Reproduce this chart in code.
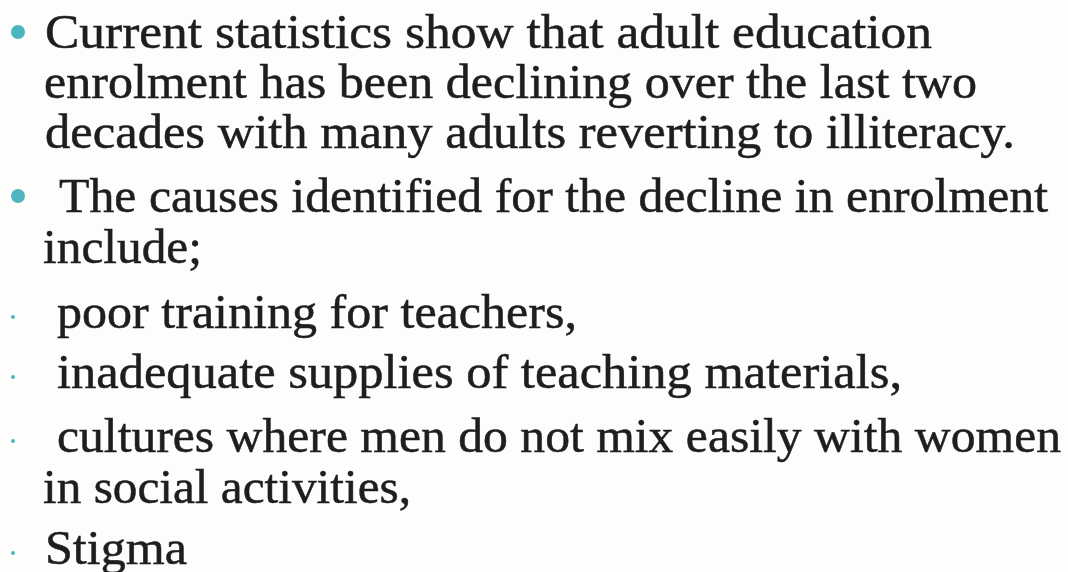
<!DOCTYPE html>
<html>
<head>
<meta charset="utf-8">
<script src="https://cdn.jsdelivr.net/npm/chart.js@4.4.1/dist/chart.umd.min.js"></script>
<style>
  html, body { margin: 0; padding: 0; }
  body { width: 1068px; height: 572px; background: #fdfdfc; position: relative; overflow: hidden; }
  .ln { position: absolute; white-space: nowrap; font-family: "Liberation Serif", "Times New Roman", serif; font-size: 48px; line-height: 1; color: #1e1e1e; -webkit-text-stroke: 0.5px #1e1e1e; transform-origin: 0 0; }
  .dot { position: absolute; border-radius: 50%; background: #4db5be; }
</style>
</head>
<body>
<script>
// Slide text (one entry per visual line)
const lineTexts = [
  "Current statistics show that adult education",
  "enrolment has been declining over the last two",
  "decades with many adults reverting to illiteracy.",
  "The causes identified for the decline in enrolment",
  "include;",
  "poor training for teachers,",
  "inadequate supplies of teaching materials,",
  "cultures where men do not mix easily with women",
  "in social activities,",
  "Stigma"
];
// bullet kind per line: "main" = large teal bullet, "sub" = small teal dot, "" = continuation
const bulletKinds = ["main", "", "", "main", "", "sub", "sub", "sub", "", "sub"];

// layout (pixels)
const baselineY = [48, 98, 148, 212, 263, 328, 388, 452, 503, 564];
const leftX     = [45, 44, 45, 59, 43, 57, 57, 57, 43, 45];
const rightX    = [932, 977, 1015, 1048, 202, 577, 902, 1061, 411, 187];

lineTexts.forEach((txt, i) => {
  const d = document.createElement('div');
  d.className = 'ln';
  const t = document.createElement('span');
  t.textContent = txt;
  const m = document.createElement('span');
  m.style.cssText = 'display:inline-block;width:0;height:0;vertical-align:baseline';
  d.appendChild(t); d.appendChild(m);
  d.style.left = leftX[i] + 'px';
  d.style.top = '0px';
  document.body.appendChild(d);
  const base = m.getBoundingClientRect().top - d.getBoundingClientRect().top;
  d.style.top = (baselineY[i] - base) + 'px';
  const w = t.getBoundingClientRect().width;
  d.style.transform = 'scaleX(' + ((rightX[i] - leftX[i]) / w) + ')';

  if (bulletKinds[i]) {
    const b = document.createElement('div');
    b.className = 'dot';
    const big = bulletKinds[i] === 'main';
    const size = big ? 14 : 4;
    const cx = big ? 18 : 13;
    const cy = baselineY[i] - (big ? 16 : 11);
    b.style.width = size + 'px'; b.style.height = size + 'px';
    b.style.left = (cx - size / 2) + 'px'; b.style.top = (cy - size / 2) + 'px';
    document.body.appendChild(b);
  }
});
</script>
</body>
</html>
